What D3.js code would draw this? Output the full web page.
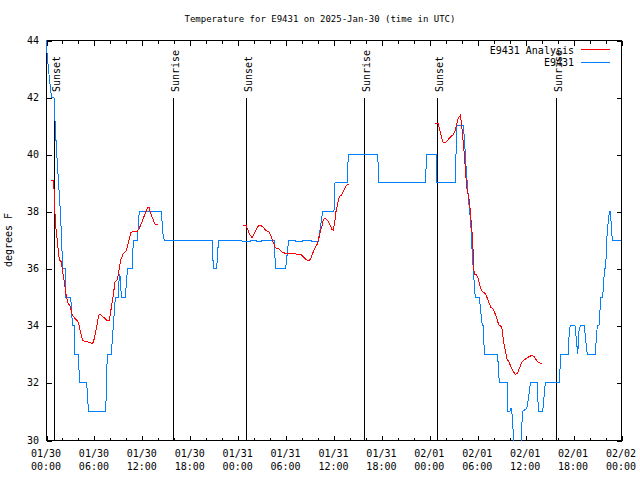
<!DOCTYPE html>
<html><head><meta charset="utf-8">
<script src="https://cdn.jsdelivr.net/npm/d3@7/dist/d3.min.js"></script>
<style>
body{margin:0;background:#fff}
svg text{font-family:"DejaVu Sans Mono","Liberation Mono",monospace;font-size:10px;fill:#000}
</style>
</head><body><svg id="c" width="640" height="480"></svg>
<script>
// ---- data (hours since 2025-01-30 00:00 UTC, degrees F) ----
const titleText = "Temperature for E9431 on 2025-Jan-30 (time in UTC)";
const seriesNames = ["E9431 Analysis", "E9431"];
const seriesColors = ["#ff0000", "#0080ff"];
const yLabel = "degrees F";

const obsHours = [0.04,0.16,0.31,0.44,0.56,0.69,1.00,1.09,1.19,1.31,1.44,1.57,1.69,1.82,1.92,2.09,2.47,2.50,3.09,3.32,3.57,3.63,4.09,4.17,5.10,5.32,7.48,7.60,7.68,8.18,8.43,8.68,9.05,9.18,9.30,9.43,9.93,10.21,10.81,10.93,11.43,11.68,14.44,14.65,14.81,20.82,20.95,21.37,21.60,24.50,24.55,25.60,25.65,26.30,26.35,27.00,27.05,28.60,28.72,30.00,30.39,31.20,31.25,32.10,32.15,33.20,33.25,34.10,34.65,36.06,36.19,37.73,37.85,41.49,41.64,41.70,47.46,47.71,48.92,48.96,51.25,51.43,52.25,52.38,52.59,52.80,53.03,53.18,53.30,53.43,53.59,53.75,54.26,54.43,54.63,54.78,54.88,56.54,56.66,56.76,57.76,57.79,58.10,58.16,58.31,58.81,59.33,59.67,60.20,60.43,60.65,61.52,61.65,62.20,62.42,62.52,64.28,64.45,65.40,65.52,65.65,66.24,66.45,66.58,66.74,66.90,67.40,67.62,67.78,68.75,68.93,69.03,69.24,69.43,69.49,69.71,69.87,69.96,70.08,70.21,70.41,70.56,70.68,70.81,70.91,72.00];
const obsTemps = [44.0,43.4,43.0,42.6,42.3,42.0,42.0,41.4,40.8,40.2,39.6,39.0,38.5,37.9,37.2,36.0,36.0,35.0,35.0,34.0,34.0,33.0,33.0,32.0,32.0,31.0,31.0,32.3,33.0,33.0,34.0,35.0,35.0,35.8,35.7,35.0,35.0,36.0,36.0,37.0,37.0,38.0,38.0,37.2,37.0,37.0,36.0,36.0,37.0,37.0,36.96,36.96,37.0,37.0,36.96,36.96,37.0,37.0,36.0,36.0,37.0,37.0,36.96,36.96,37.0,37.0,36.96,36.96,38.0,38.0,39.0,39.0,40.0,40.0,39.5,39.0,39.0,40.0,40.0,39.0,39.0,41.0,41.0,40.6,39.6,38.8,38.0,37.7,36.9,36.3,35.6,35.0,35.0,34.5,34.0,34.0,33.0,33.0,32.5,32.0,32.0,31.0,31.0,31.1,31.1,29.0,29.0,31.0,31.1,31.5,32.0,32.0,31.0,31.0,31.7,32.0,32.0,33.0,33.0,33.8,34.0,34.0,33.4,33.0,33.8,34.0,34.0,33.4,33.0,33.0,33.6,34.0,34.0,34.8,35.0,35.0,35.7,36.0,36.0,37.0,37.7,38.0,38.0,37.4,37.0,37.0];

// analysis: null marks a gap between runs
const anaHours = [0.63,0.91,1.00,1.09,1.16,1.25,1.41,1.54,1.67,1.88,2.09,2.34,2.50,2.72,3.00,3.13,3.32,3.84,4.09,4.35,4.60,5.10,5.85,6.05,6.35,6.60,6.76,7.18,7.60,7.93,8.23,8.43,8.64,8.93,9.18,9.35,9.68,10.02,10.31,10.61,10.93,11.39,11.68,12.02,12.40,12.73,12.93,13.11,13.44,13.69,13.99,
  null,
  24.63,25.04,25.21,25.54,25.83,26.17,26.58,26.88,27.21,27.55,27.89,28.14,28.34,28.59,28.71,29.09,29.51,30.14,30.55,31.30,31.89,32.31,32.64,32.93,33.15,33.47,33.77,33.97,34.22,34.40,34.56,34.72,34.94,35.22,35.56,35.81,35.98,36.19,36.31,36.48,36.73,37.03,37.32,37.57,37.90,
  null,
  48.77,49.09,49.34,49.53,49.75,50.09,50.38,50.71,51.00,51.21,51.43,51.65,51.88,52.03,52.15,52.28,52.40,52.53,52.69,52.84,53.01,53.13,53.26,53.43,53.56,53.66,53.85,54.06,54.26,54.43,54.68,55.01,55.26,55.51,55.72,56.01,56.22,56.44,56.69,56.94,57.14,57.26,57.51,57.69,57.94,58.19,58.51,58.77,59.02,59.27,59.57,59.86,60.19,60.52,60.82,61.11,61.36,61.65,62.07];
const anaTemps = [39.1,39.1,38.8,38.2,37.7,37.4,37.0,36.6,36.3,36.25,35.9,35.45,35.1,34.8,34.7,34.57,34.35,34.2,34.08,33.73,33.48,33.44,33.38,33.55,33.96,34.37,34.4,34.3,34.2,34.2,34.72,35.08,35.54,35.6,36.0,36.3,36.53,36.6,36.9,37.26,37.3,37.28,37.41,37.64,37.91,38.14,38.14,37.93,37.7,37.53,37.53,
  null,
  37.51,37.51,37.4,37.17,37.08,37.29,37.49,37.51,37.44,37.33,37.29,37.16,37.0,36.83,36.73,36.7,36.59,36.51,36.53,36.51,36.5,36.39,36.3,36.26,36.35,36.59,36.77,36.86,37.12,37.35,37.5,37.7,37.76,37.7,37.53,37.37,37.35,37.7,37.99,38.22,38.52,38.58,38.75,38.89,38.96,
  null,
  41.08,41.08,40.8,40.6,40.4,40.42,40.52,40.63,40.68,40.82,41.05,41.28,41.36,41.1,40.7,40.3,39.95,39.4,38.85,38.6,38.4,38.0,37.55,37.0,36.0,35.8,35.8,35.7,35.48,35.3,35.19,35.13,34.96,34.78,34.64,34.58,34.43,34.26,34.03,34.0,33.85,33.5,33.15,32.86,32.74,32.59,32.39,32.3,32.32,32.51,32.71,32.8,32.86,32.92,32.96,32.92,32.82,32.71,32.68];

const sunEvents = ["Sunset","Sunrise","Sunset","Sunrise","Sunset","Sunrise"];
const sunHours = [1.04,15.94,25.08,39.86,49.0,63.9];

const xMajorHours = [0,6,12,18,24,30,36,42,48,54,60,66,72];
const yTickValues = [30,32,34,36,38,40,42,44];

// ---- drawing ----
const t0 = Date.UTC(2025,0,30);
const toDate = h => new Date(t0 + h*3600e3);
const L=46, R=621, T=40, B=440;
const svg = d3.select("#c");
const x = d3.scaleUtc().domain([toDate(0), toDate(72)]).range([L, R]);
const y = d3.scaleLinear().domain([30, 44]).range([B, T]);

svg.append("rect").attr("width",640).attr("height",480).attr("fill","#fff");

const minorHours = d3.range(0, 73, 2).filter(h => h % 6 !== 0);
function axisGroup(axis, tx, ty){
  const g = svg.append("g").attr("transform",`translate(${tx},${ty})`).call(axis);
  g.select(".domain").remove();
  g.selectAll("text").remove();
  g.selectAll("line").attr("stroke","#000").attr("shape-rendering","crispEdges");
  return g;
}
axisGroup(d3.axisBottom(x).tickValues(xMajorHours.map(toDate)).tickSize(-5).tickFormat(""), 0.5, B+0.5);
axisGroup(d3.axisBottom(x).tickValues(minorHours.map(toDate)).tickSize(-3).tickFormat(""), 0.5, B+0.5);
axisGroup(d3.axisTop(x).tickValues(xMajorHours.map(toDate)).tickSize(-5).tickFormat(""), 0.5, T+0.5);
axisGroup(d3.axisTop(x).tickValues(minorHours.map(toDate)).tickSize(-3).tickFormat(""), 0.5, T+0.5);
axisGroup(d3.axisLeft(y).tickValues(yTickValues).tickSize(-5).tickFormat(""), L+0.5, 0.5);
axisGroup(d3.axisRight(y).tickValues(yTickValues).tickSize(-5).tickFormat(""), R+0.5, 0.5);

// y tick labels
svg.append("g").selectAll("text").data(yTickValues).join("text")
  .attr("x", L-7).attr("y", d => y(d)+3.5).attr("text-anchor","end").text(d => d);

// x tick labels (two lines)
const fmtD = d3.utcFormat("%m/%d"), fmtT = d3.utcFormat("%H:%M");
const xl = svg.append("g").selectAll("g").data(xMajorHours.map(toDate)).join("g");
xl.append("text").attr("x", d => x(d)).attr("y", 457).attr("text-anchor","middle").text(fmtD);
xl.append("text").attr("x", d => x(d)).attr("y", 470).attr("text-anchor","middle").text(fmtT);

// clip
svg.append("clipPath").attr("id","pc").append("rect").attr("x",L).attr("y",T).attr("width",R-L+1).attr("height",B-T+1);

// sunrise / sunset
const sg = svg.append("g").selectAll("g").data(sunHours.map((h,i)=>({h, label: sunEvents[i]}))).join("g");
sg.append("line").attr("x1", d => Math.round(x(toDate(d.h)))+0.5).attr("x2", d => Math.round(x(toDate(d.h)))+0.5)
  .attr("y1", 98).attr("y2", B).attr("stroke","#000").attr("stroke-width",1).attr("shape-rendering","crispEdges");
sg.append("text").attr("transform", d => `translate(${Math.round(x(toDate(d.h)))+6},92) rotate(-90)`)
  .attr("text-anchor","start").text(d => d.label);

// frame
svg.append("rect").attr("x",L+0.5).attr("y",T+0.5).attr("width",R-L).attr("height",B-T)
  .attr("fill","none").attr("stroke","#000").attr("shape-rendering","crispEdges");

// series
const pg = svg.append("g").attr("clip-path","url(#pc)");
const obsLine = d3.line().x((d,i)=>x(toDate(obsHours[i]))).y((d,i)=>y(obsTemps[i]));
pg.append("path").attr("d", obsLine(obsHours)).attr("fill","none").attr("stroke",seriesColors[1])
  .attr("stroke-width",1).attr("shape-rendering","crispEdges");
const anaLine = d3.line().defined((d,i)=>anaHours[i]!==null && anaTemps[i]!==null)
  .x((d,i)=>x(toDate(anaHours[i]))).y((d,i)=>y(anaTemps[i]));
pg.append("path").attr("d", anaLine(anaHours)).attr("fill","none").attr("stroke",seriesColors[0])
  .attr("stroke-width",1).attr("shape-rendering","crispEdges");

// title
svg.append("text").attr("x", 320).attr("y", 22).attr("text-anchor","middle").style("font-size","9px").text(titleText);

// y label
svg.append("text").attr("transform","translate(12,240) rotate(-90)").attr("text-anchor","middle").text(yLabel);

// legend
const lg = svg.append("g").selectAll("g").data(seriesNames).join("g");
lg.append("text").attr("x",574).attr("y",(d,i)=>53.5+i*12.8).attr("text-anchor","end").text(d=>d);
lg.append("line").attr("x1",581).attr("x2",610).attr("y1",(d,i)=>49.5+i*12.8).attr("y2",(d,i)=>49.5+i*12.8)
  .attr("stroke",(d,i)=>seriesColors[i]).attr("stroke-width",1).attr("shape-rendering","crispEdges");
</script></body></html>
